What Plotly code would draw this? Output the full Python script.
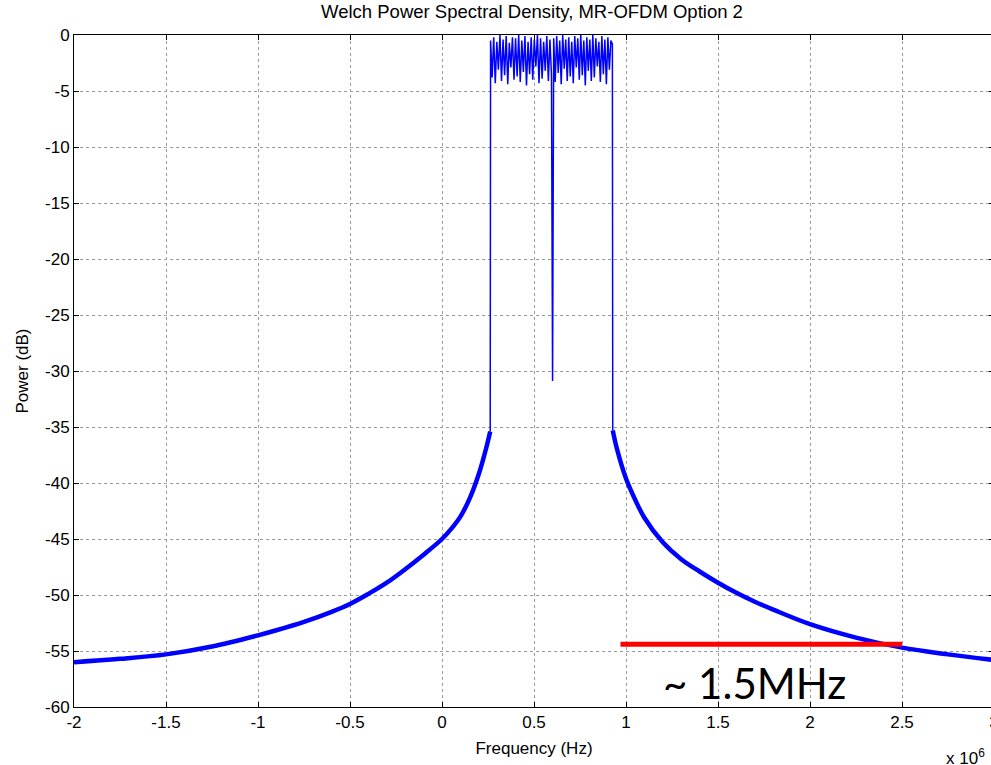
import numpy as np
import plotly.graph_objects as go

# ---- data ----
# frequency in units of 1e6 Hz, power in dB
left_f = [-2.0, -1.75, -1.5, -1.25, -1.0, -0.9, -0.75, -0.6, -0.5, -0.4, -0.3,
          -0.2, -0.1, 0.0, 0.05, 0.1, 0.15, 0.2, 0.24, 0.262]
left_db = [-56.0, -55.7, -55.3, -54.6, -53.6, -53.15, -52.4, -51.5, -50.8, -49.9,
           -48.9, -47.7, -46.4, -45.0, -44.1, -43.0, -41.4, -39.2, -36.9, -35.4]

right_f = [0.928, 0.95, 1.0, 1.05, 1.1, 1.2, 1.3, 1.4, 1.5, 1.6, 1.7, 1.8,
           2.0, 2.25, 2.5, 2.75, 3.0]
right_db = [-35.3, -36.9, -39.6, -41.5, -43.1, -45.3, -46.8, -47.9, -48.9,
            -49.8, -50.6, -51.3, -52.6, -53.8, -54.7, -55.3, -55.8]

band_lo, notch_f, band_hi = 0.262, 0.601, 0.928
notch_db = -30.9
ripple_left = [-0.5, -3.8, -0.2, -4.3, -0.6, -3.1, 0.0, -4.1, -0.4, -3.6,
               -0.1, -4.4, -0.7, -2.9, -0.2, -4.0, -0.3, -3.7, 0.0, -4.2,
               -0.5, -3.3, -0.1, -4.5, -0.6, -3.5, -0.2, -4.0, -0.4, -2.8,
               0.0, -4.3, -0.3, -3.9, -0.6, -3.2, -0.1, -4.1, -0.4, -3.6]
ripple_right = [-0.3, -4.2, -0.1, -3.4, -0.5, -4.4, 0.0, -3.0, -0.4, -4.1,
                -0.2, -3.7, -0.6, -4.3, -0.1, -2.9, -0.3, -4.0, 0.0, -3.6,
                -0.5, -4.5, -0.2, -3.2, -0.4, -4.1, 0.0, -3.8, -0.3, -2.8,
                -0.6, -4.2, -0.1, -3.5, -0.4, -4.4, -0.2, -3.1, -0.5, -0.8]

marker_f = [0.97, 2.50]
marker_db = [-54.4, -54.4]

x_ticks = [-2, -1.5, -1, -0.5, 0, 0.5, 1, 1.5, 2, 2.5, 3]
x_ticktext = ["-2", "-1.5", "-1", "-0.5", "0", "0.5", "1", "1.5", "2", "2.5", "3"]
y_ticks = [-60, -55, -50, -45, -40, -35, -30, -25, -20, -15, -10, -5, 0]
y_ticktext = ["-60", "-55", "-50", "-45", "-40", "-35", "-30", "-25", "-20",
              "-15", "-10", "-5", "0"]

# ---- build in-band trace ----
xl = np.linspace(band_lo + 0.002, notch_f - 0.006, len(ripple_left))
xr = np.linspace(notch_f + 0.006, band_hi - 0.002, len(ripple_right))
band_x = [band_lo] + list(xl) + [notch_f] + list(xr) + [band_hi]
band_y = [left_db[-1]] + ripple_left + [notch_db] + ripple_right + [right_db[0]]

BLUE = "#0000ff"
FONT = "Liberation Sans, Arial, sans-serif"

fig = go.Figure()
fig.add_trace(go.Scatter(x=left_f, y=left_db, mode="lines",
                         line=dict(color=BLUE, width=4.5, shape="spline"),
                         hoverinfo="skip"))
fig.add_trace(go.Scatter(x=right_f, y=right_db, mode="lines",
                         line=dict(color=BLUE, width=4.5, shape="spline"),
                         hoverinfo="skip"))
fig.add_trace(go.Scatter(x=band_x, y=band_y, mode="lines",
                         line=dict(color=BLUE, width=1.5),
                         hoverinfo="skip"))
fig.add_trace(go.Scatter(x=marker_f, y=marker_db, mode="lines",
                         line=dict(color="#ff0000", width=5),
                         hoverinfo="skip"))

axis_common = dict(showline=True, linecolor="black", linewidth=1, mirror="ticks",
                   ticks="inside", ticklen=5, tickcolor="black",
                   showgrid=True, gridcolor="#9a9a9a", griddash="dot", gridwidth=1,
                   zeroline=False, automargin=False, ticklabeloverflow="allow",
                   tickfont=dict(family=FONT, size=17, color="black"))

fig.update_xaxes(range=[-2, 3], tickmode="array", tickvals=x_ticks, ticktext=x_ticktext,
                 title=dict(text="Frequency (Hz)", font=dict(family=FONT, size=17, color="black"),
                            standoff=10),
                 **axis_common)
fig.update_yaxes(range=[-60, 0], tickmode="array", tickvals=y_ticks, ticktext=y_ticktext,
                 title=dict(text="Power (dB)", font=dict(family=FONT, size=17, color="black"),
                            standoff=12),
                 **axis_common)

fig.add_annotation(x=1.70, y=-57.9, xref="x", yref="y", text="~ 1.5MHz",
                   showarrow=False, font=dict(family="Lato, Open Sans, sans-serif", size=42,
                                              color="black"))
fig.add_annotation(x=1.0, y=0, xref="paper", yref="paper", xanchor="right", yanchor="middle",
                   xshift=-7, yshift=-50,
                   text="x 10<sup>6</sup>", showarrow=False,
                   font=dict(family=FONT, size=17, color="black"))

fig.update_layout(
    width=995, height=765,
    margin=dict(l=74, r=1, t=35, b=58),
    paper_bgcolor="white", plot_bgcolor="white",
    showlegend=False,
    title=dict(text="Welch Power Spectral Density, MR-OFDM Option 2",
               x=532 / 995, xanchor="center", y=1 - 12 / 765, yanchor="middle",
               font=dict(family=FONT, size=18.5, color="black")),
)

fig.write_html("out.html", config={"displayModeBar": False},
               post_script="document.body.style.margin='0';document.body.style.overflow='hidden';")
